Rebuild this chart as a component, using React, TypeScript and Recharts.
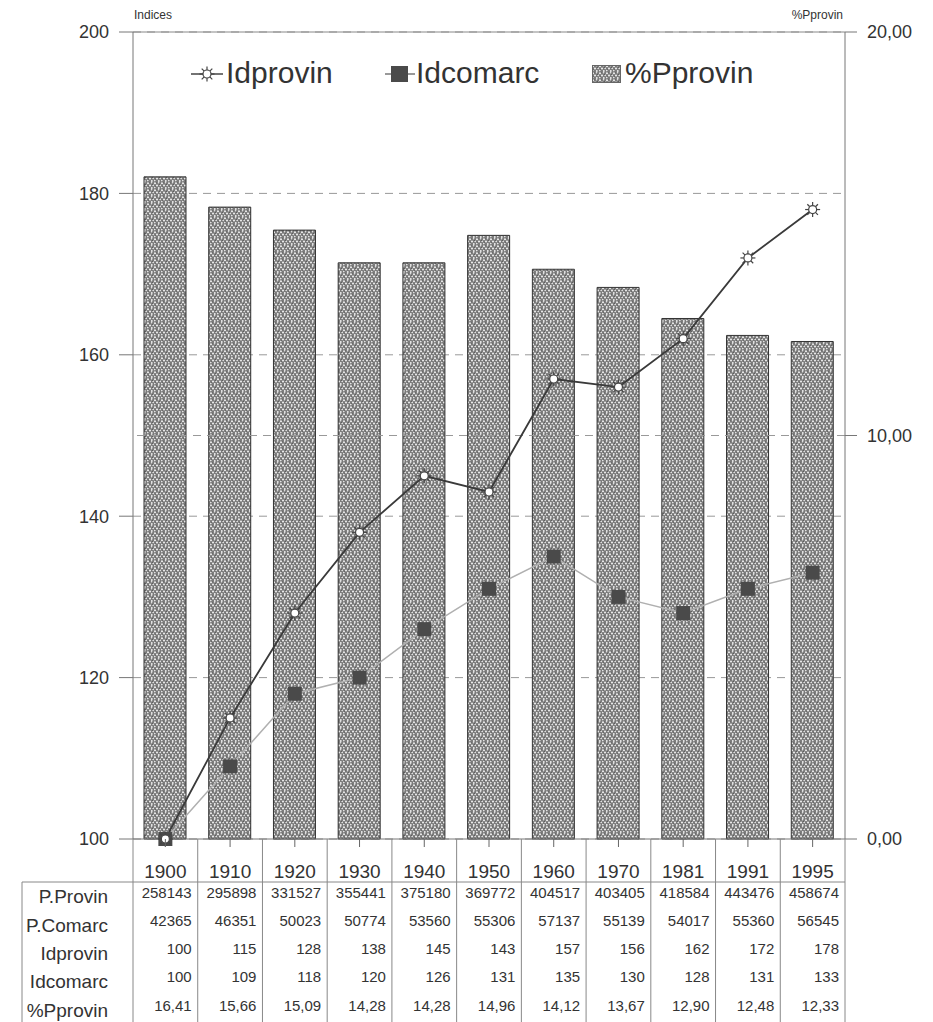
import { ComposedChart, Bar, Line, XAxis, YAxis, CartesianGrid, ReferenceLine, Legend } from 'recharts'

const years = ['1900', '1910', '1920', '1930', '1940', '1950', '1960', '1970', '1981', '1991', '1995']
const pProvin = ['258143', '295898', '331527', '355441', '375180', '369772', '404517', '403405', '418584', '443476', '458674']
const pComarc = ['42365', '46351', '50023', '50774', '53560', '55306', '57137', '55139', '54017', '55360', '56545']
const idProvin = [100, 115, 128, 138, 145, 143, 157, 156, 162, 172, 178]
const idComarc = [100, 109, 118, 120, 126, 131, 135, 130, 128, 131, 133]
const pctProvin = [16.41, 15.66, 15.09, 14.28, 14.28, 14.96, 14.12, 13.67, 12.9, 12.48, 12.33]

const rowLabels = ['P.Provin', 'P.Comarc', 'Idprovin', 'Idcomarc', '%Pprovin']
const leftTicks = [100, 120, 140, 160, 180, 200]
const rightTicks = [0, 10, 20]

const data = years.map((y, i) => ({
  year: y,
  idProvin: idProvin[i],
  idComarc: idComarc[i],
  pct: pctProvin[i],
}))

const W = 933
const H = 1022
const PLOT_L = 133
const PLOT_R = 845
const PLOT_T = 32
const PLOT_B = 839
const COL = (PLOT_R - PLOT_L) / years.length
const LABEL_Y = [897, 926, 954, 982, 1011]
const CELL_Y = [893, 921, 949, 977, 1006]
const TABLE_TOP = 882
const FONT = '"Liberation Sans", Arial, sans-serif'
const INK = '#333'

const comma = (v: number) => v.toFixed(2).replace('.', ',')

function TableTick(props: any) {
  const { x, payload, index } = props
  const i = payload?.index ?? index
  const left = x - COL / 2
  const right = x + COL / 2
  const cells = [pProvin[i], pComarc[i], String(idProvin[i]), String(idComarc[i]), comma(pctProvin[i])]
  return (
    <g>
      <line x1={x} x2={x} y1={PLOT_B} y2={PLOT_B + 8} stroke="#666" />
      <line x1={left} x2={left} y1={PLOT_B} y2={H} stroke="#888" />
      {i === years.length - 1 && <line x1={right} x2={right} y1={PLOT_B} y2={H} stroke="#888" />}
      <text x={x} y={PLOT_B + 39} textAnchor="middle" fontSize={19} fill={INK} fontFamily={FONT}>
        {payload.value}
      </text>
      {cells.map((c, k) => (
        <text key={k} x={right - 6} y={CELL_Y[k] + 5} textAnchor="end" fontSize={15} fill={INK} fontFamily={FONT}>
          {c}
        </text>
      ))}
    </g>
  )
}

function SunDot(props: any) {
  const { cx, cy } = props
  if (cx == null || cy == null) return null
  const rays = [0, 45, 90, 135, 180, 225, 270, 315]
  return (
    <g>
      {rays.map(a => {
        const r = (a * Math.PI) / 180
        return (
          <line key={a} x1={cx + Math.cos(r) * 4} y1={cy + Math.sin(r) * 4} x2={cx + Math.cos(r) * 7.5} y2={cy + Math.sin(r) * 7.5} stroke="#444" strokeWidth={1.2} />
        )
      })}
      <circle cx={cx} cy={cy} r={4} fill="#fff" stroke="#444" strokeWidth={1.2} />
    </g>
  )
}

function SquareDot(props: any) {
  const { cx, cy } = props
  if (cx == null || cy == null) return null
  return <rect x={cx - 7} y={cy - 7} width={14} height={14} fill="#4a4a4a" />
}

function LegendBox() {
  const txt = { position: 'absolute' as const, top: 56, fontSize: 30, color: INK, fontFamily: FONT, lineHeight: '34px' }
  return (
    <div style={{ position: 'relative', width: W, height: 110 }}>
      <svg style={{ position: 'absolute', left: 190, top: 59 }} width={34} height={30}>
        <line x1={1} x2={33} y1={15} y2={15} stroke="#444" strokeWidth={1.5} />
        <SunDot cx={17} cy={15} />
      </svg>
      <span style={{ ...txt, left: 226 }}>Idprovin</span>
      <svg style={{ position: 'absolute', left: 384, top: 59 }} width={32} height={30}>
        <line x1={1} x2={31} y1={15} y2={15} stroke="#777" strokeWidth={1.5} />
        <rect x={7} y={7} width={17} height={16} fill="#4a4a4a" />
      </svg>
      <span style={{ ...txt, left: 416 }}>Idcomarc</span>
      <svg style={{ position: 'absolute', left: 592, top: 65 }} width={30} height={19}>
        <rect x={0.5} y={0.5} width={28} height={17} fill="url(#speckle)" stroke="#666" />
      </svg>
      <span style={{ ...txt, left: 625 }}>%Pprovin</span>
    </div>
  )
}

export default function App() {
  return (
    <div style={{ position: 'absolute', left: 0, top: 0, width: W, height: H, background: '#fff', fontFamily: FONT }}>
      <svg width={0} height={0} style={{ position: 'absolute' }}>
        <defs>
          <pattern id="speckle" width={7} height={7} patternUnits="userSpaceOnUse">
            <rect width={7} height={7} fill="#7a7a7a" />
            <circle cx={1} cy={1.2} r={1} fill="#f2f2f2" />
            <circle cx={4.6} cy={0.8} r={0.8} fill="#e8e8e8" />
            <circle cx={3} cy={3.6} r={1} fill="#f2f2f2" />
            <circle cx={6.2} cy={3.4} r={0.8} fill="#e8e8e8" />
            <circle cx={0.8} cy={5.6} r={0.8} fill="#eee" />
            <circle cx={4.8} cy={6} r={0.9} fill="#f2f2f2" />
            <circle cx={2.2} cy={0.2} r={0.4} fill="#444" />
            <circle cx={5.4} cy={2.2} r={0.5} fill="#444" />
            <circle cx={1.6} cy={4.4} r={0.4} fill="#444" />
          </pattern>
        </defs>
      </svg>
      <ComposedChart width={W} height={H} data={data} margin={{ top: PLOT_T, right: 0, left: 0, bottom: 0 }}>
        <CartesianGrid yAxisId="left" vertical={false} stroke="#999" strokeDasharray="8 6" />
        <XAxis
          dataKey="year"
          interval={0}
          height={H - PLOT_B}
          axisLine={{ stroke: '#777' }}
          tickLine={false}
          tickSize={0}
          tick={<TableTick />}
        />
        <YAxis
          yAxisId="left"
          domain={[100, 200]}
          ticks={leftTicks}
          width={PLOT_L}
          tickSize={14}
          tickMargin={10}
          axisLine={{ stroke: '#777' }}
          tickLine={{ stroke: '#777' }}
          tick={{ fill: INK, fontSize: 18, fontFamily: FONT }}
        />
        <YAxis
          yAxisId="right"
          orientation="right"
          domain={[0, 20]}
          ticks={rightTicks}
          width={W - PLOT_R}
          tickSize={12}
          tickMargin={10}
          tickFormatter={comma}
          axisLine={{ stroke: '#777' }}
          tickLine={{ stroke: '#777' }}
          tick={{ fill: INK, fontSize: 18, fontFamily: FONT }}
        />
        <ReferenceLine yAxisId="right" y={10} stroke="#999" strokeDasharray="8 6" />
        <ReferenceLine yAxisId="left" y={200} stroke="#888" />
        <Legend
          verticalAlign="middle"
          align="center"
          layout="horizontal"
          wrapperStyle={{ position: 'absolute', left: 0, top: 0, width: W, height: 110 }}
          content={() => <LegendBox />}
        />
        <Bar
          yAxisId="right"
          dataKey="pct"
          barSize={42}
          fill="url(#speckle)"
          stroke="#333"
          strokeWidth={1}
          isAnimationActive={false}
        />
        <Line
          yAxisId="left"
          dataKey="idComarc"
          stroke="#b0b0b0"
          strokeWidth={1.5}
          dot={<SquareDot />}
          activeDot={false}
          isAnimationActive={false}
        />
        <Line
          yAxisId="left"
          dataKey="idProvin"
          stroke="#3a3a3a"
          strokeWidth={1.8}
          dot={<SunDot />}
          activeDot={false}
          isAnimationActive={false}
        />
      </ComposedChart>
      <svg width={W} height={H} style={{ position: 'absolute', left: 0, top: 0, pointerEvents: 'none' }}>
        <text x={PLOT_L + 1} y={19} fontSize={12} fill={INK} fontFamily={FONT}>Indices</text>
        <text x={PLOT_R - 2} y={19} fontSize={12} fill={INK} fontFamily={FONT} textAnchor="end">%Pprovin</text>
        <line x1={22} x2={PLOT_R} y1={TABLE_TOP} y2={TABLE_TOP} stroke="#888" />
        <line x1={22} x2={22} y1={TABLE_TOP} y2={H} stroke="#888" />
        {rowLabels.map((r, k) => (
          <text key={r} x={108} y={LABEL_Y[k] + 6} textAnchor="end" fontSize={19} fill={INK} fontFamily={FONT}>
            {r}
          </text>
        ))}
      </svg>
    </div>
  )
}
